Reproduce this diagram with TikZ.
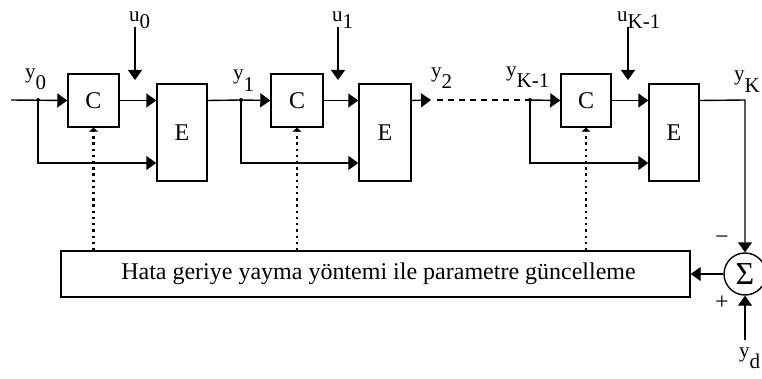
\documentclass[tikz,border=0pt]{standalone}
\usepackage{fontspec}
\setmainfont{Liberation Serif}
\usetikzlibrary{arrows.meta}
\newcommand\lbl[3]{#1\raisebox{-#3pt}{#2}}
\begin{document}
\begin{tikzpicture}[x=1pt,y=-1pt,
  box/.style={draw, line width=1.4pt, inner sep=0pt, font=\fontsize{24}{24}\selectfont},
  arr/.style={line width=1.4pt, -{Triangle[length=10pt,width=14pt]}},
  ln/.style={line width=1.4pt},
  dots/.style={line width=2.6pt, dash pattern=on 2.4pt off 3.8pt, -{Triangle[length=4pt,width=9pt]}},
  lab/.style={anchor=base west, inner sep=0pt, font=\fontsize{21}{21}\selectfont}]
\useasboundingbox (0,0) rectangle (762,379);
% blocks
\node[box, minimum width=51pt, minimum height=53pt] (C1) at (93.5,100.5) {C};
\node[box, minimum width=50pt, minimum height=97pt] (E1) at (182,132.5) {E};
\node[box, minimum width=52pt, minimum height=53pt] (C2) at (297,100.5) {C};
\node[box, minimum width=52pt, minimum height=97pt] (E2) at (385,132.5) {E};
\node[box, minimum width=50pt, minimum height=53pt] (C3) at (586,100.5) {C};
\node[box, minimum width=50pt, minimum height=97pt] (E3) at (674,132.5) {E};
\node[box, minimum width=629pt, minimum height=46pt] (B) at (375.5,274) {\hspace*{6pt}Hata geriye yayma yöntemi ile parametre güncelleme};
\node[draw, circle, line width=1.4pt, minimum size=42pt, inner sep=0pt, font=\fontsize{32}{32}\selectfont] (S) at (745,274) {Σ};
% coordinates
\coordinate (in0) at (11,100);
\coordinate (j0) at (38,100);
\coordinate (j1) at (241,100);
\coordinate (j2) at (530,100);
\coordinate (u0a) at (135,27); \coordinate (u0b) at (135,80);
\coordinate (u1a) at (338,27); \coordinate (u1b) at (338,80);
\coordinate (u2a) at (628,27); \coordinate (u2b) at (628,80);
\coordinate (y2tip) at (431,100);
\coordinate (dashs) at (437,100);
\coordinate (yk) at (745,100);
\coordinate (ydc) at (745,340);
% main path stage 1
\draw[arr] (in0) -- (C1.west);
\draw[arr] (C1.east) -- (C1.east -| E1.west);
\draw[arr] (j0) |- (E1.west |- 0,163);
\draw[arr] (u0a) -- (u0b);
% stage 2
\draw[ln] (C2.west -| E1.east) -- (j1);
\draw[arr] (j1) -- (C2.west);
\draw[arr] (C2.east) -- (C2.east -| E2.west);
\draw[arr] (j1) |- (E2.west |- 0,163);
\draw[arr] (u1a) -- (u1b);
\draw[arr] (C2.west -| E2.east) -- (y2tip);
\draw[ln, dash pattern=on 6pt off 5pt] (dashs) -- (j2);
% stage 3
\draw[arr] (j2) -- (C3.west);
\draw[arr] (C3.east) -- (C3.east -| E3.west);
\draw[arr] (j2) |- (E3.west |- 0,163);
\draw[arr] (u2a) -- (u2b);
% output and error
\draw[arr] (C3.east -| E3.east) -- (yk) -- (S.north);
\draw[arr] (ydc) -- (S.south);
\draw[arr] (S.west) -- (B.east);
% junction dots
\foreach \j in {j0,j1,j2} \fill (\j) circle (2pt);
% dotted parameter updates
\draw[dots] (B.north -| C1.south) -- (C1.south);
\draw[dots] (B.north -| C2.south) -- (C2.south);
\draw[dots] (B.north -| C3.south) -- (C3.south);
% labels
\node[lab] (ly0) at (25,79) {\lbl{y}{0}{11}};
\node[lab] (lu0) at (129,22) {\lbl{u}{0}{7}};
\node[lab] (ly1) at (233,80) {\lbl{y}{1}{12}};
\node[lab] (lu1) at (332,22) {\lbl{u}{1}{7}};
\node[lab] (ly2) at (431,78) {\lbl{y}{2}{11}};
\node[lab] (lyk1) at (506,77) {\lbl{y}{K-1}{11}};
\node[lab] (luk1) at (617,22) {\lbl{u}{K-1}{7}};
\node[lab] (lyk) at (734,81) {\lbl{y}{K}{12}};
\node[lab] (lyd) at (739,357) {\lbl{y}{d}{11}};
\node[lab, anchor=center, font=\fontsize{24}{24}\selectfont] (mn) at (722,240) {−};
\node[lab, anchor=center, font=\fontsize{24}{24}\selectfont] (pl) at (722,303) {+};
\end{tikzpicture}
\end{document}
